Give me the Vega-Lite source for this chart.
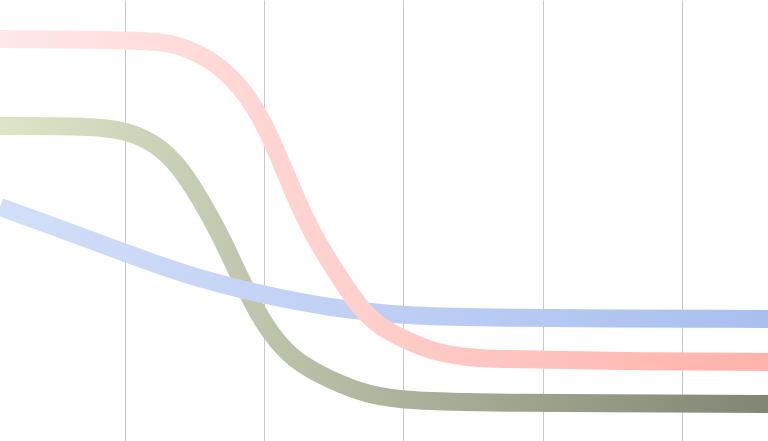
{
  "$schema": "https://vega.github.io/schema/vega-lite/v6.json",
  "width": 768,
  "height": 441,
  "padding": 0,
  "autosize": {"type": "none"},
  "background": "white",
  "config": {"view": {"stroke": null}},
  "data": {"values": [
    {"s": "pink", "t": -0.898, "v": 91.16},
    {"s": "pink", "t": 0.036, "v": 90.93},
    {"s": "pink", "t": 0.273, "v": 90.48},
    {"s": "pink", "t": 0.395, "v": 89.57},
    {"s": "pink", "t": 0.517, "v": 87.98},
    {"s": "pink", "t": 0.646, "v": 85.71},
    {"s": "pink", "t": 0.776, "v": 82.09},
    {"s": "pink", "t": 0.883, "v": 78.0},
    {"s": "pink", "t": 0.984, "v": 72.79},
    {"s": "pink", "t": 1.084, "v": 65.99},
    {"s": "pink", "t": 1.192, "v": 57.82},
    {"s": "pink", "t": 1.293, "v": 50.34},
    {"s": "pink", "t": 1.415, "v": 43.31},
    {"s": "pink", "t": 1.544, "v": 36.96},
    {"s": "pink", "t": 1.63, "v": 32.88},
    {"s": "pink", "t": 1.709, "v": 29.48},
    {"s": "pink", "t": 1.817, "v": 26.3},
    {"s": "pink", "t": 1.953, "v": 23.81},
    {"s": "pink", "t": 2.19, "v": 20.41},
    {"s": "pink", "t": 2.427, "v": 19.05},
    {"s": "pink", "t": 2.621, "v": 18.59},
    {"s": "pink", "t": 3.411, "v": 18.14},
    {"s": "pink", "t": 4.618, "v": 17.91},
    {"s": "green", "t": -0.898, "v": 71.43},
    {"s": "green", "t": -0.251, "v": 71.43},
    {"s": "green", "t": 0.0, "v": 70.52},
    {"s": "green", "t": 0.23, "v": 67.35},
    {"s": "green", "t": 0.395, "v": 62.13},
    {"s": "green", "t": 0.546, "v": 54.65},
    {"s": "green", "t": 0.675, "v": 47.17},
    {"s": "green", "t": 0.747, "v": 42.4},
    {"s": "green", "t": 0.912, "v": 31.29},
    {"s": "green", "t": 1.041, "v": 24.49},
    {"s": "green", "t": 1.206, "v": 18.37},
    {"s": "green", "t": 1.472, "v": 13.83},
    {"s": "green", "t": 1.738, "v": 10.43},
    {"s": "green", "t": 2.047, "v": 9.07},
    {"s": "green", "t": 2.621, "v": 8.62},
    {"s": "green", "t": 4.618, "v": 8.39},
    {"s": "blue", "t": -0.898, "v": 53.06},
    {"s": "blue", "t": -0.539, "v": 48.98},
    {"s": "blue", "t": -0.251, "v": 45.58},
    {"s": "blue", "t": 0.18, "v": 40.59},
    {"s": "blue", "t": 0.539, "v": 36.73},
    {"s": "blue", "t": 0.969, "v": 33.33},
    {"s": "blue", "t": 1.257, "v": 31.52},
    {"s": "blue", "t": 1.472, "v": 30.39},
    {"s": "blue", "t": 1.688, "v": 29.48},
    {"s": "blue", "t": 2.047, "v": 28.34},
    {"s": "blue", "t": 2.621, "v": 27.89},
    {"s": "blue", "t": 4.618, "v": 27.66}
  ]},
  "encoding": {
    "x": {"field": "t", "type": "quantitative",
          "scale": {"domain": [-0.898, 4.618], "nice": false, "zero": false},
          "axis": {"values": [0, 1, 2, 3, 4], "labels": false, "ticks": false, "domain": false, "title": null,
                   "grid": true, "gridColor": "#c8c8c8", "gridWidth": 1, "gridOpacity": 1}},
    "y": {"field": "v", "type": "quantitative",
          "scale": {"domain": [0, 100], "nice": false, "zero": false},
          "axis": null}
  },
  "layer": [
    {
      "transform": [{"filter": "datum.s === 'green'"}],
      "mark": {"type": "line", "interpolate": "basis", "strokeWidth": 18, "strokeCap": "butt",
               "stroke": {"gradient": "linear", "x1": 0, "y1": 0, "x2": 1, "y2": 0,
                          "stops": [{"offset": 0, "color": "#dde5c9"}, {"offset": 1, "color": "#808673"}]}}
    },
    {
      "transform": [{"filter": "datum.s === 'blue'"}],
      "mark": {"type": "line", "interpolate": "basis", "strokeWidth": 18, "strokeCap": "butt",
               "stroke": {"gradient": "linear", "x1": 0, "y1": 0, "x2": 1, "y2": 0,
                          "stops": [{"offset": 0, "color": "#d3dff9"}, {"offset": 1, "color": "#a9bfee"}]}}
    },
    {
      "transform": [{"filter": "datum.s === 'pink'"}],
      "mark": {"type": "line", "interpolate": "basis", "strokeWidth": 18, "strokeCap": "butt",
               "stroke": {"gradient": "linear", "x1": 0, "y1": 0, "x2": 1, "y2": 0,
                          "stops": [{"offset": 0, "color": "#ffe8e8"}, {"offset": 1, "color": "#ffb2aa"}]}}
    }
  ]
}
